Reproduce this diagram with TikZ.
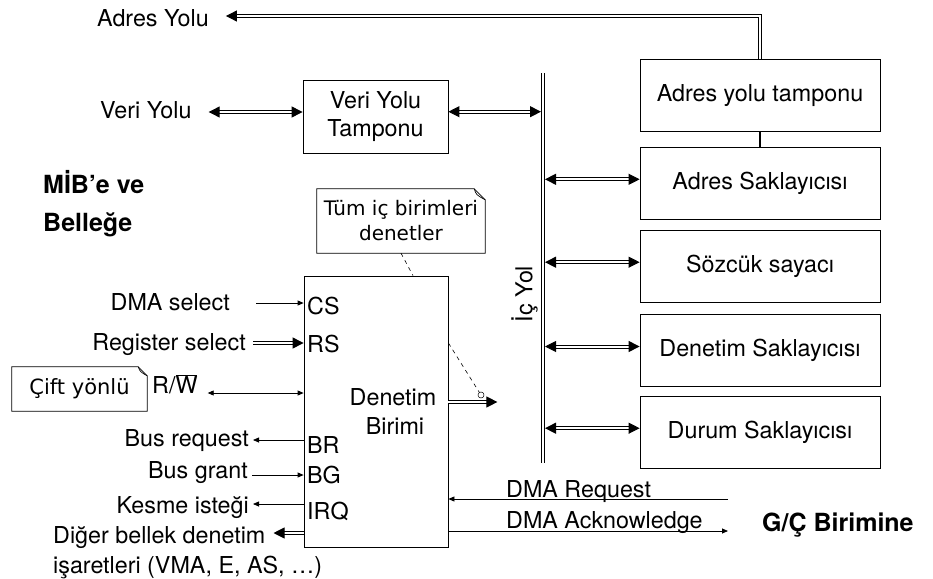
\documentclass[tikz,border=0pt]{standalone}
\usepackage{fontspec}
\setmainfont{TeX Gyre Heros}
\newfontfamily\notefont{DejaVu Sans}
\usetikzlibrary{arrows.meta,calc}
\tikzset{
  bt/.tip={Triangle[length=11pt,width=11pt]},
  st/.tip={Triangle[length=6pt,width=5pt]},
}
\begin{document}
\begin{tikzpicture}[x=1pt,y=-1pt,
  every node/.style={font=\fontsize{23.3}{28}\selectfont},
  lbl/.style={inner sep=0pt, text height=16.5pt, text depth=0pt},
  boldlbl/.style={inner sep=0pt, text height=18pt, text depth=0pt, font=\fontsize{25}{30}\selectfont\bfseries},
  box/.style={draw, line width=0.8pt, minimum width=240pt, minimum height=72pt, inner sep=0pt, align=center},
  dbl/.style={double, double distance=2pt, line width=1pt},
  sgl/.style={line width=0.8pt},
  notebox/.style={inner sep=0pt, align=center, font=\notefont\fontsize{20}{25}\selectfont},
  noteline/.style={line width=0.7pt},
  dashln/.style={line width=0.6pt, dash pattern=on 4pt off 4pt},
]
\useasboundingbox (0,0) rectangle (933,578);

% right-hand boxes
\node[box] (adt) at (760,95.5) {Adres yolu tamponu};
\node[box] (as) at (760,183.3) {Adres Saklayıcısı};
\node[box] (ss) at (760,266.2) {Sözcük sayacı};
\node[box] (ds) at (760,350.5) {Denetim Saklayıcısı};
\node[box] (dus) at (760,432.2) {Durum Saklayıcısı};
\draw[line width=1.3pt] (adt.south) -- (as.north);

% address bus
\node[lbl, anchor=west] (adyolu) at (97,18) {Adres Yolu};
\draw[dbl, -bt] (adt.north) |- ([xshift=17pt,yshift=2pt]adyolu.east);

% internal bus
\coordinate (busT) at (543,73);
\coordinate (busB) at (543,463);
\coordinate (busR) at (545,0);
\coordinate (busL) at (541,0);
\draw[dbl] (busT) -- (busB);
\node[lbl, rotate=90] (icyol) at (524,294) {İç Yol};
\foreach \b in {as,ss,ds,dus}{
  \draw[dbl, bt-bt] ([yshift=4pt]\b.west -| busR) -- ([yshift=4pt]\b.west);
}

% data bus buffer
\node[box, minimum width=145pt, minimum height=73pt] (vyt) at (375.5,116.5) {Veri Yolu\\Tamponu};
\draw[dbl, bt-bt] ([yshift=4.8pt]vyt.east) -- ([yshift=4.8pt]vyt.east -| busL);
\node[lbl, anchor=west] (veriyolu) at (100,110) {Veri Yolu};
\draw[dbl, bt-bt] ([xshift=17pt,yshift=-2pt]veriyolu.east) -- ([yshift=-2pt]veriyolu.east -| vyt.west);

% left bold labels
\node[boldlbl, anchor=west] (mib) at (43,184) {MİB’e ve};
\node[boldlbl, anchor=west] (bel) at (43,222.5) {Belleğe};

% control unit
\node[draw, line width=0.8pt, minimum width=144pt, minimum height=271pt, inner sep=0pt] (db) at (376,411.5) {};
\node[lbl] (dbt1) at (393,397.5) {Denetim};
\node[lbl] (dbt2) at (395,426.5) {Birimi};

% pins
\node[lbl, anchor=west] (cs) at (307,306) {CS};
\node[lbl, anchor=west] (rs) at (307,344) {RS};
\node[lbl, anchor=west] (br) at (307,445) {BR};
\node[lbl, anchor=west] (bg) at (307,475.5) {BG};
\node[lbl, anchor=west] (irq) at (307,511.5) {IRQ};

% left signals
\node[lbl, anchor=east] (dmasel) at (230,302) {DMA select};
\draw[sgl, -st] ([xshift=26pt,yshift=-1pt]dmasel.east) -- ([yshift=-1pt]dmasel.east -| db.west);
\node[lbl, anchor=east] (regsel) at (246,342) {Register select};
\draw[dbl, -bt] ([xshift=7pt,yshift=-1pt]regsel.east) -- ([yshift=-1pt]regsel.east -| db.west);
\node[lbl, anchor=west] (rw) at (152,385.5) {R/$\overline{\hbox{W}}$};
\draw[sgl, st-st] ([xshift=10pt,yshift=-7.5pt]rw.east) -- ([yshift=-7.5pt]rw.east -| db.west);
\node[lbl, anchor=east] (busreq) at (249,438.5) {Bus request};
\draw[sgl, -st] ([yshift=-1.5pt]busreq.east -| db.west) -- ([xshift=4pt,yshift=-1.5pt]busreq.east);
\node[lbl, anchor=east] (busgr) at (248,470) {Bus grant};
\draw[sgl, -st] ([xshift=4pt,yshift=-5pt]busgr.east) -- ([yshift=-5pt]busgr.east -| db.west);
\node[lbl, anchor=east] (kesme) at (249,505) {Kesme isteği};
\draw[sgl, -st] ([yshift=1pt]kesme.east -| db.west) -- ([xshift=4pt,yshift=1pt]kesme.east);
\node[lbl, anchor=west] (diger) at (53,535.5) {Diğer bellek denetim};
\node[lbl, anchor=west] (isaret) at (53,565) {işaretleri (VMA, E, AS, …)};
\draw[dbl, -bt] ([yshift=2.5pt]diger.east -| db.west) -- ([xshift=8pt,yshift=2.5pt]diger.east);

% notes
\node[notebox, minimum width=168pt, minimum height=64pt] (note1) at (401,221) {Tüm iç birimleri\\denetler};
\draw[noteline] (note1.south west) -- (note1.north west) -- ([xshift=-11pt]note1.north east) -- ([yshift=-11pt]note1.north east) -- (note1.south east) -- cycle;
\draw[noteline] ([xshift=-11pt]note1.north east) .. controls ([xshift=-9pt,yshift=-6pt]note1.north east) .. ([yshift=-11pt]note1.north east);
\draw[dashln] (note1.south) -- ([xshift=37pt]db.north);

\node[notebox, minimum width=135pt, minimum height=44pt, font=\notefont\fontsize{21}{25}\selectfont] (note2) at (79.5,389) {Çift yönlü};
\draw[noteline] (note2.south west) -- (note2.north west) -- ([xshift=-9pt]note2.north east) -- ([yshift=-9pt]note2.north east) -- (note2.south east) -- cycle;
\draw[noteline] ([xshift=-9pt]note2.north east) .. controls ([xshift=-7pt,yshift=-5pt]note2.north east) .. ([yshift=-9pt]note2.north east);

% control unit to internal bus
\draw[dbl, -bt] ([yshift=9.5pt]db.east) -- ++(49,0);
\coordinate (dend) at (481,395);
\draw[dashln] ([yshift=68.5pt]db.east) -- (dend);
\draw[line width=0.5pt, fill=white] (dend) circle (3pt);

% DMA request / acknowledge
\coordinate (gcR) at (728,499);
\coordinate (gcA) at (728,531);
\draw[sgl, -st] (gcR) -- (gcR -| db.east);
\draw[sgl, -st] (gcA -| db.east) -- (gcA);
\node[lbl, anchor=west] (dmareq) at (506,489) {DMA Request};
\node[lbl, anchor=west] (dmaack) at (506,520.5) {DMA Acknowledge};
\node[boldlbl, anchor=west] (gc) at (762,522.5) {G/Ç Birimine};
\end{tikzpicture}
\end{document}
